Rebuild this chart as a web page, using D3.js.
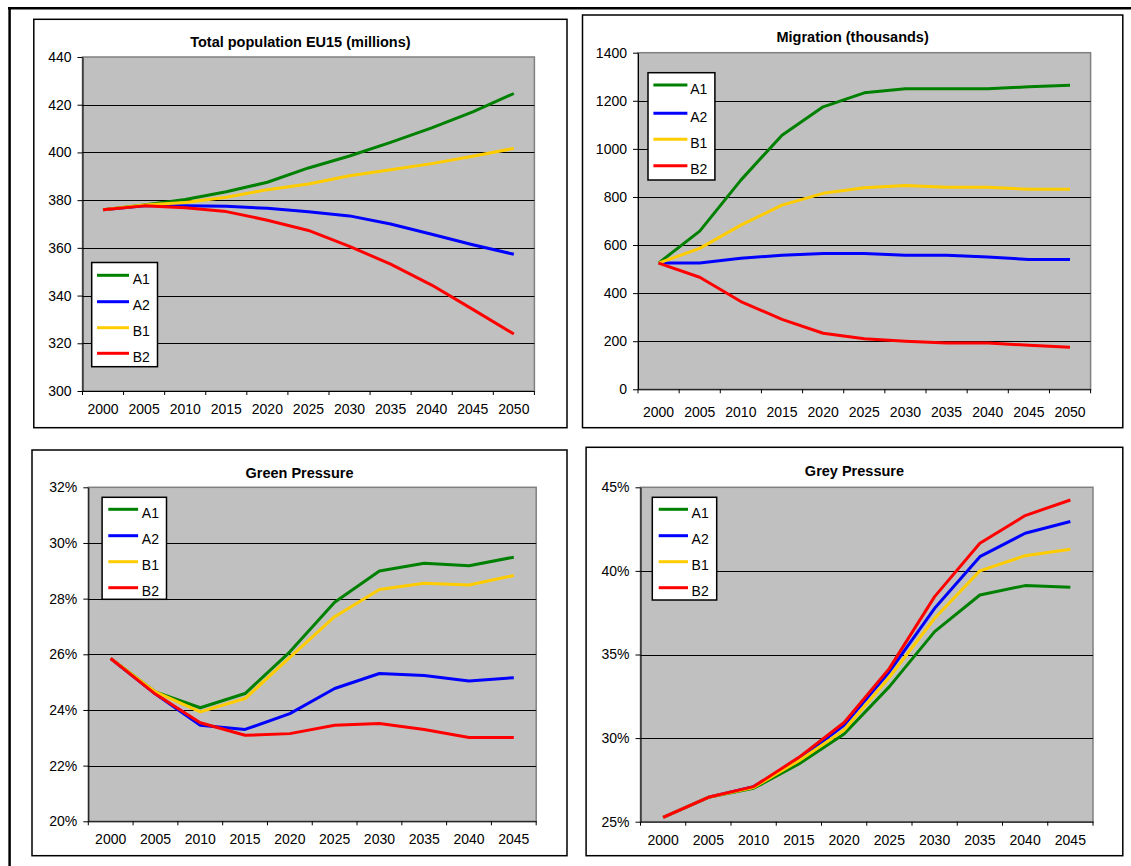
<!DOCTYPE html>
<html>
<head>
<meta charset="utf-8">
<script src="https://cdn.jsdelivr.net/npm/d3@7"></script>
<style>
  body { margin: 0; background: #fff; }
  svg { display: block; font-family: Arial, "Liberation Sans", sans-serif; }
</style>
</head>
<body>
<svg id="chart" width="1131" height="866"></svg>
<script>
// categories
const years2050 = ["2000", "2005", "2010", "2015", "2020", "2025", "2030", "2035", "2040", "2045", "2050"];
const years2045 = ["2000", "2005", "2010", "2015", "2020", "2025", "2030", "2035", "2040", "2045"];
const seriesNames = ["A1", "A2", "B1", "B2"];
const seriesColors = ["#008000", "#0000ff", "#ffcc00", "#ff0000"];

// Total population EU15 (millions)
const popA1 = [376, 378, 380.3, 383.5, 387.5, 393.5, 398.5, 404.2, 410.3, 417, 424.7];
const popA2 = [376, 377.6, 377.6, 377.4, 376.6, 375.1, 373.4, 370, 365.7, 361.3, 357.3];
const popB1 = [376, 378, 379, 381.2, 384.4, 386.8, 390.2, 392.7, 395.3, 398.4, 401.7];
const popB2 = [376, 377.6, 376.8, 375.2, 371.6, 367.3, 360.6, 353.2, 344.4, 334.2, 323.9];
const popTicks = [300, 320, 340, 360, 380, 400, 420, 440];

// Migration (thousands)
const migA1 = [525, 658, 870, 1057, 1175, 1233, 1250, 1250, 1250, 1258, 1265];
const migA2 = [525, 525, 545, 558, 565, 565, 558, 558, 550, 540, 540];
const migB1 = [525, 586, 683, 766, 815, 838, 848, 840, 840, 832, 832];
const migB2 = [525, 466, 365, 291, 233, 210, 200, 193, 193, 183, 175];
const migTicks = [0, 200, 400, 600, 800, 1000, 1200, 1400];

// Green Pressure (%)
const greenA1 = [25.85, 24.65, 24.08, 24.59, 26.09, 27.87, 28.99, 29.27, 29.18, 29.49];
const greenA2 = [25.85, 24.57, 23.45, 23.3, 23.87, 24.77, 25.31, 25.24, 25.04, 25.16];
const greenB1 = [25.85, 24.65, 23.93, 24.41, 25.89, 27.35, 28.33, 28.55, 28.49, 28.83];
const greenB2 = [25.85, 24.57, 23.54, 23.09, 23.15, 23.45, 23.51, 23.3, 23.01, 23.01];
const greenTicks = [20, 22, 24, 26, 28, 30, 32];

// Grey Pressure (%)
const greyA1 = [25.26, 26.46, 27.0, 28.45, 30.24, 33.08, 36.37, 38.56, 39.12, 39.02];
const greyA2 = [25.26, 26.46, 27.1, 28.7, 30.78, 33.97, 37.76, 40.85, 42.25, 42.95];
const greyB1 = [25.26, 26.46, 27.05, 28.65, 30.48, 33.64, 37.17, 40.0, 40.91, 41.29];
const greyB2 = [25.26, 26.46, 27.1, 28.85, 30.93, 34.17, 38.46, 41.65, 43.31, 44.24];
const greyTicks = [25, 30, 35, 40, 45];

const svg = d3.select("#chart");

// page frame (top and left edges)
svg.append("line").attr("x1", 8).attr("x2", 1131).attr("y1", 8.3).attr("y2", 8.3)
  .attr("stroke", "#000").attr("stroke-width", 2.5);
svg.append("line").attr("x1", 9.6).attr("x2", 9.6).attr("y1", 7).attr("y2", 866)
  .attr("stroke", "#000").attr("stroke-width", 2.5);

const pct = d => d + "%";

const panels = [
  {
    title: "Total population EU15 (millions)", cats: years2050,
    series: [popA1, popA2, popB1, popB2], ticks: popTicks, fmt: d => d,
    box: [33.8, 19.3, 567, 427.7], plot: [82.5, 57, 534.4, 391], titleY: 46.6, labelPad: 13.5,
    legend: { box: [91.7, 262.5, 157.5, 366.7], ys: [275.3, 301.7, 327.7, 353.3], line: [97, 129], text: 132.7 }
  },
  {
    title: "Migration (thousands)", cats: years2050,
    series: [migA1, migA2, migB1, migB2], ticks: migTicks, fmt: d => d,
    box: [582.5, 15, 1122.8, 427.7], plot: [638, 52.7, 1090.6, 389.3], titleY: 42, labelPad: 17.5,
    legend: { box: [648, 72.7, 714.9, 180], ys: [85, 113.3, 139.3, 165.7], line: [653.4, 687.4], text: 690.2 }
  },
  {
    title: "Green Pressure", cats: years2045,
    series: [greenA1, greenA2, greenB1, greenB2], ticks: greenTicks, fmt: pct,
    box: [32, 450, 567, 855.7], plot: [88.3, 487.3, 536.2, 821.3], titleY: 478, labelPad: 13,
    legend: { box: [102.1, 497.3, 166.5, 599.3], ys: [509.3, 535.7, 561.7, 587.7], line: [108.3, 138.1], text: 141.8 }
  },
  {
    title: "Grey Pressure", cats: years2045,
    series: [greyA1, greyA2, greyB1, greyB2], ticks: greyTicks, fmt: pct,
    box: [586.1, 447.3, 1122.8, 855.7], plot: [640.5, 487.3, 1093, 821.7], titleY: 476.3, labelPad: 13,
    legend: { box: [652.3, 497.3, 716.7, 600], ys: [509.3, 535.7, 561.7, 587.7], line: [658.7, 688], text: 691.6 }
  }
];

function drawPanel(p) {
  const g = svg.append("g");
  const [bx0, by0, bx1, by1] = p.box;
  const [px0, py0, px1, py1] = p.plot;

  g.append("rect")
    .attr("x", bx0).attr("y", by0).attr("width", bx1 - bx0).attr("height", by1 - by0)
    .attr("fill", "#fff").attr("stroke", "#000").attr("stroke-width", 1.5);

  const x = d3.scaleBand().domain(p.cats).range([px0, px1]);
  const y = d3.scaleLinear()
    .domain([p.ticks[0], p.ticks[p.ticks.length - 1]])
    .range([py1, py0]);

  // plot area
  g.append("rect")
    .attr("x", px0).attr("y", py0).attr("width", px1 - px0).attr("height", py1 - py0)
    .attr("fill", "#c0c0c0").attr("stroke", "#808080").attr("stroke-width", 1.5);

  // gridlines (not on the axis or the top edge)
  g.append("g").selectAll("line")
    .data(p.ticks.slice(1, -1))
    .join("line")
    .attr("x1", px0).attr("x2", px1)
    .attr("y1", d => Math.round(y(d)) + 0.5).attr("y2", d => Math.round(y(d)) + 0.5)
    .attr("stroke", "#000").attr("stroke-width", 1);

  // y axis
  const yAxis = g.append("g")
    .attr("transform", `translate(${px0},0)`)
    .call(d3.axisLeft(y).tickValues(p.ticks).tickFormat(p.fmt).tickSize(5).tickSizeOuter(0).tickPadding(6));
  yAxis.selectAll("text").attr("font-size", "14px").attr("fill", "#000");
  yAxis.select(".domain").attr("stroke", "#000");

  // x axis: labels centered, tick marks between categories
  const xAxis = g.append("g")
    .attr("transform", `translate(0,${py1})`)
    .call(d3.axisBottom(x).tickSize(0).tickPadding(p.labelPad));
  xAxis.selectAll("text").attr("font-size", "14px").attr("fill", "#000");
  xAxis.select(".domain").attr("stroke", "#000");
  const bounds = p.cats.map(c => x(c)).concat([x.range()[1]]);
  xAxis.append("g").selectAll("line")
    .data(bounds)
    .join("line")
    .attr("x1", d => d).attr("x2", d => d)
    .attr("y1", 0).attr("y2", 4)
    .attr("stroke", "#000");

  // series
  const line = d3.line()
    .x((d, i) => x(p.cats[i]) + x.bandwidth() / 2)
    .y(d => y(d));
  g.append("g").selectAll("path")
    .data(p.series)
    .join("path")
    .attr("d", line)
    .attr("fill", "none")
    .attr("stroke", (d, i) => seriesColors[i])
    .attr("stroke-width", 3)
    .attr("stroke-linejoin", "round");

  // title
  g.append("text")
    .attr("x", (bx0 + bx1) / 2).attr("y", p.titleY)
    .attr("text-anchor", "middle")
    .attr("font-size", "14.5px").attr("font-weight", "bold")
    .text(p.title);

  // legend
  const lg = p.legend;
  g.append("rect")
    .attr("x", lg.box[0]).attr("y", lg.box[1])
    .attr("width", lg.box[2] - lg.box[0]).attr("height", lg.box[3] - lg.box[1])
    .attr("fill", "#fff").attr("stroke", "#000").attr("stroke-width", 1.5);
  const items = g.append("g").selectAll("g")
    .data(seriesNames)
    .join("g");
  items.append("line")
    .attr("x1", lg.line[0]).attr("x2", lg.line[1])
    .attr("y1", (d, i) => lg.ys[i]).attr("y2", (d, i) => lg.ys[i])
    .attr("stroke", (d, i) => seriesColors[i])
    .attr("stroke-width", 3);
  items.append("text")
    .attr("x", lg.text).attr("y", (d, i) => lg.ys[i] + 8.5)
    .attr("font-size", "14px")
    .text(d => d);
}

panels.forEach(drawPanel);
</script>
</body>
</html>
